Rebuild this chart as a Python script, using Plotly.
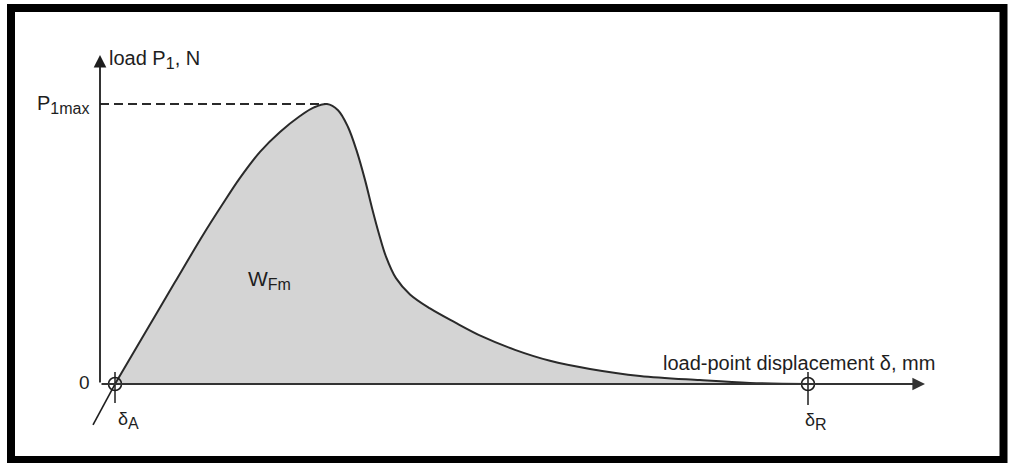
import plotly.graph_objects as go

# ---- data (schematic load / displacement curve) ----
delta = [0.15, 0.45, 0.75, 1.03, 1.22, 1.40, 1.60, 1.80, 2.00, 2.14, 2.27,
         2.38, 2.48, 2.57, 2.65, 2.72, 2.79, 2.86, 2.96, 3.10, 3.30, 3.55, 3.82,
         4.15, 4.50, 4.90, 5.40, 6.00, 6.50, 7.08]
load = [0.00, 1.82, 3.64, 5.32, 6.39, 7.36, 8.29, 9.00, 9.57, 9.88, 10.00,
        9.78, 9.18, 8.29, 7.29, 6.29, 5.36, 4.55, 3.78, 3.20, 2.70, 2.20, 1.70,
        1.22, 0.83, 0.54, 0.29, 0.14, 0.04, 0.00]

delta_A = 0.15
delta_R = 7.08
P1max = 10.0
delta_Pmax = 2.27
x_axis_end = 8.25
y_axis_end = 11.75
toe_delta = [0.15, -0.07]
toe_load = [0.0, -1.46]

x_range = [-1.0, 9.09]
y_range = [-2.821, 13.714]

ink = "#1e1e1e"
font = "Liberation Sans, Arial, sans-serif"

fig = go.Figure()

# filled area + curve
fig.add_trace(go.Scatter(x=delta, y=load, mode="lines", fill="tozeroy",
                         fillcolor="#d4d4d4",
                         line=dict(color="#2a2a2a", width=2, shape="spline", smoothing=1.0),
                         hoverinfo="skip", showlegend=False))

# dashed P1max line
fig.add_trace(go.Scatter(x=[0, delta_Pmax], y=[P1max, P1max], mode="lines",
                         line=dict(color="#2a2a2a", width=2, dash="9px,5px"),
                         hoverinfo="skip", showlegend=False))

# toe (initial slope extension)
fig.add_trace(go.Scatter(x=toe_delta, y=toe_load, mode="lines",
                         line=dict(color=ink, width=1.6),
                         hoverinfo="skip", showlegend=False))

# ticks through delta_A and delta_R
fig.add_trace(go.Scatter(x=[delta_A, delta_A], y=[0.43, -0.68], mode="lines",
                         line=dict(color=ink, width=1.5), hoverinfo="skip", showlegend=False))
fig.add_trace(go.Scatter(x=[delta_R, delta_R], y=[0.43, -0.75], mode="lines",
                         line=dict(color=ink, width=1.5), hoverinfo="skip", showlegend=False))

# axes as arrows
fig.add_annotation(x=0, y=y_axis_end, ax=0, ay=0, xref="x", yref="y", axref="x", ayref="y",
                   showarrow=True, arrowhead=2, arrowsize=1.4, arrowwidth=1.8,
                   arrowcolor=ink, text="")
fig.add_annotation(x=x_axis_end, y=0, ax=0, ay=0, xref="x", yref="y", axref="x", ayref="y",
                   showarrow=True, arrowhead=2, arrowsize=1.4, arrowwidth=1.8,
                   arrowcolor="#333333", text="")

# circles at delta_A, delta_R
fig.add_trace(go.Scatter(x=[delta_A, delta_R], y=[0, 0], mode="markers",
                         marker=dict(symbol="circle-open", size=13, color=ink,
                                     line=dict(width=1.6, color=ink)),
                         hoverinfo="skip", showlegend=False))


def sub(s, px):
    return "<sub><span style='font-size:%dpx'>%s</span></sub>" % (px, s)


def txt(x, y, s, size=18, xanchor="left", yanchor="middle"):
    fig.add_annotation(x=x, y=y, xref="x", yref="y", text=s, showarrow=False,
                       xanchor=xanchor, yanchor=yanchor,
                       font=dict(family=font, size=size, color=ink))


txt(0.07, y_axis_end - 0.15, "load P" + sub("1", 16) + ", N", size=20)
txt(-0.09, P1max, "P" + sub("1max", 16), size=20, xanchor="right")
txt(-0.08, 0.05, "0", size=19, xanchor="right")
txt(x_axis_end + 0.12, 0.75, "load-point displacement δ, mm", size=20, xanchor="right")
txt(delta_A + 0.01, -1.3, "δ" + sub("A", 16), size=18)
txt(delta_R - 0.05, -1.35, "δ" + sub("R", 16), size=18)
txt(1.46, 3.7, "W" + sub("Fm", 16), size=21)

# outer frame
fig.add_shape(type="rect", xref="paper", yref="paper",
              x0=11 / 1009, x1=1003.5 / 1009, y0=1 - 460 / 463, y1=1 - 8 / 463,
              line=dict(color="black", width=8))

fig.update_layout(
    width=1009, height=463,
    margin=dict(l=0, r=0, t=0, b=0),
    paper_bgcolor="white", plot_bgcolor="white",
    xaxis=dict(range=x_range, visible=False, fixedrange=True),
    yaxis=dict(range=y_range, visible=False, fixedrange=True),
    showlegend=False,
)

fig.write_html("out.html", config={"displayModeBar": False})
